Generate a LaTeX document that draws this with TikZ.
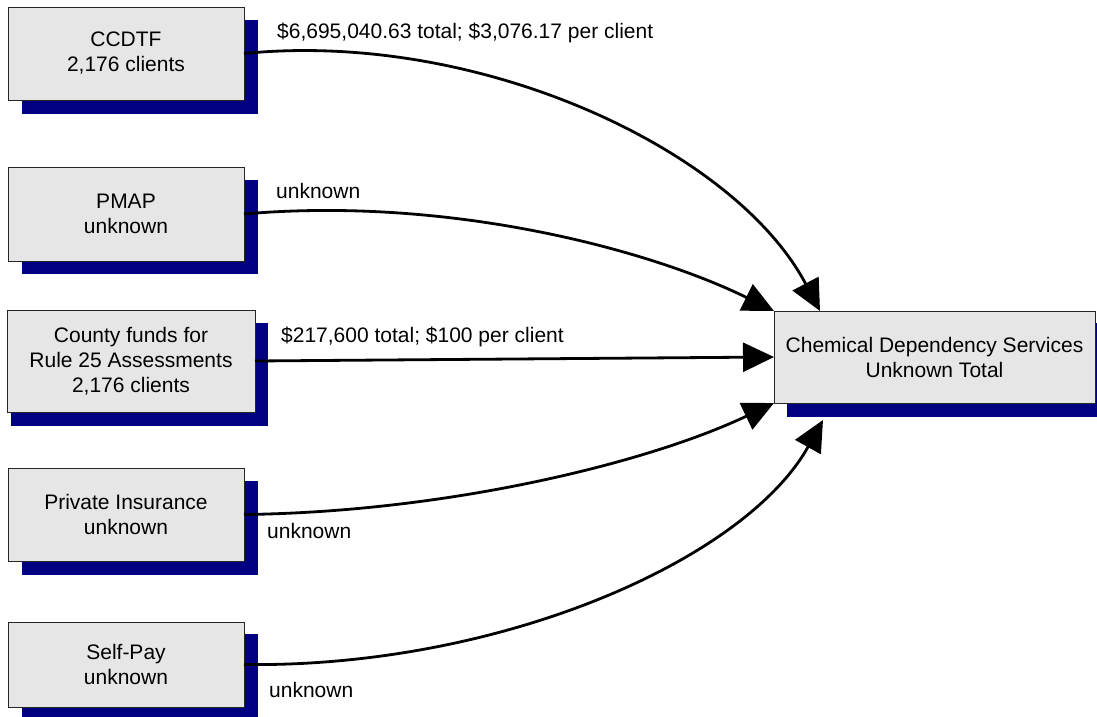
\documentclass[tikz,border=0pt]{standalone}
\usepackage{fontspec}
\setmainfont{Liberation Sans}
\usetikzlibrary{arrows.meta,calc,backgrounds}
\definecolor{boxgray}{RGB}{230,230,230}
\definecolor{shadownavy}{RGB}{0,0,128}
\begin{document}
\begin{tikzpicture}[x=1pt,y=-1pt,
  box/.style={draw=black!85, line width=0.9pt, fill=boxgray, rectangle,
    inner sep=0pt, outer sep=0pt, align=center, anchor=north west,
    font=\fontsize{21}{25}\selectfont},
  lbl/.style={inner sep=0pt, anchor=base west, font=\fontsize{21}{25}\selectfont},
  flow/.style={line width=2.8pt, -{Triangle[length=31pt,width=29pt]}},
  shade/.style={fill=shadownavy}]
\useasboundingbox (0,0) rectangle (1097,717);

% source boxes
\node[box, minimum width=236pt, minimum height=93pt] (ccdtf) at (8,7) {CCDTF\\2,176 clients};
\node[box, minimum width=236pt, minimum height=94pt] (pmap) at (8,167) {PMAP\\unknown};
\node[box, minimum width=248pt, minimum height=102pt] (county) at (7,310) {County funds for\\Rule 25 Assessments\\2,176 clients};
\node[box, minimum width=236pt, minimum height=93pt] (private) at (8,468) {Private Insurance\\unknown};
\node[box, minimum width=236pt, minimum height=85pt] (selfpay) at (8,622) {Self-Pay\\unknown};

% destination box
\node[box, minimum width=321pt, minimum height=92pt] (target) at (774,311) {Chemical Dependency Services\\Unknown Total};

% drop shadows behind the boxes
\begin{pgfonlayer}{background}
  \fill[shade] ($(ccdtf.south west)+(14,14)$) rectangle ($(ccdtf.north east)+(14,13)$);
  \fill[shade] ($(pmap.south west)+(14,13)$) rectangle ($(pmap.north east)+(14,13)$);
  \fill[shade] ($(county.south west)+(4,14)$) rectangle ($(county.north east)+(13,13)$);
  \fill[shade] ($(private.south west)+(14,14)$) rectangle ($(private.north east)+(14,13)$);
  \fill[shade] ($(selfpay.south west)+(14,14)$) rectangle ($(selfpay.north east)+(14,12)$);
  \fill[shade] ($(target.south west)+(13,14)$) rectangle ($(target.north east)+(10,12)$);
\end{pgfonlayer}

% flow labels
\node[lbl] (l1) at (277,39) {\$6,695,040.63 total; \$3,076.17 per client};
\node[lbl] (l2) at (276,198) {unknown};
\node[lbl] (l3) at (281,342) {\$217,600 total; \$100 per client};
\node[lbl] (l4) at (267,538) {unknown};
\node[lbl] (l5) at (269,697) {unknown};

% flows into the services box
\coordinate (t1) at ($(target.north west)+(46,0)$);
\coordinate (t5) at ($(target.south west)+(49,17)$);
\draw[flow] (ccdtf.east) .. controls (480,30) and (735,150) .. (t1);
\draw[flow] (pmap.east) .. controls (450,196) and (650,250) .. (target.north west);
\draw[flow] (county.east) -- (target.west);
\draw[flow] (private.east) .. controls (450,512) and (650,462) .. (target.south west);
\draw[flow] (selfpay.east) .. controls (500,668) and (745,560) .. (t5);
\end{tikzpicture}
\end{document}
